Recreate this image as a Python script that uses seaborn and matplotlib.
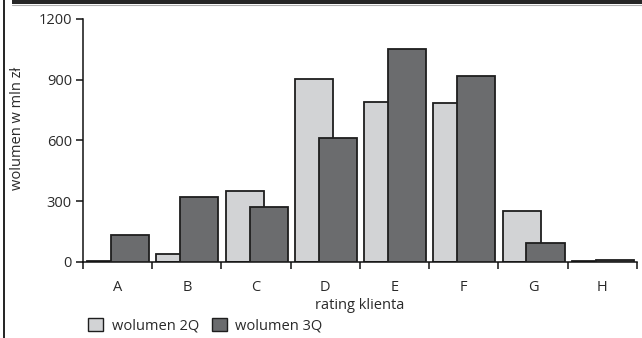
import numpy as np
import matplotlib
matplotlib.use("Agg")
import matplotlib.pyplot as plt
from matplotlib.lines import Line2D
from matplotlib.patches import Rectangle, Patch
import seaborn as sns

# Volume by client rating, in mln zł
categories = ["A", "B", "C", "D", "E", "F", "G", "H"]
wolumen_2q = [5, 40, 352, 902, 792, 784, 252, 3]
wolumen_3q = [133, 321, 273, 612, 1050, 917, 95, 12]
series_labels = ["wolumen 2Q", "wolumen 3Q"]
y_ticks = [0, 300, 600, 900, 1200]

light = "#d2d3d5"
dark = "#6b6c6e"
edge = "#1e1e1e"
text_c = "#2a2a2a"

sns.set_theme(style="white")
plt.rcParams["font.family"] = ["Open Sans", "DejaVu Sans"]

fig = plt.figure(figsize=(6.42, 3.38), dpi=100)
ax = fig.add_axes([0.1293, 0.2249, 0.8627, 0.7189])

idx = np.arange(len(categories))
bar_w = 0.55
sns.barplot(x=idx - 0.165, y=wolumen_2q, native_scale=True, width=bar_w,
            color=light, edgecolor=edge, linewidth=1.3, saturation=1, ax=ax, zorder=2)
sns.barplot(x=idx + 0.18, y=wolumen_3q, native_scale=True, width=bar_w,
            color=dark, edgecolor=edge, linewidth=1.3, saturation=1, ax=ax, zorder=3)

ax.set_xlim(-0.5, len(categories) - 0.5)
ax.set_ylim(0, 1200)

# boundary ticks between categories, labels at the centres
ax.set_xticks(np.arange(-0.5, len(categories), 1.0))
ax.set_xticklabels([])
ax.set_xticks(idx, minor=True)
ax.set_xticklabels(categories, minor=True)
ax.tick_params(axis="x", which="major", direction="out", length=5, width=1.1,
               color="#111111", bottom=True)
ax.tick_params(axis="x", which="minor", length=0, pad=13, labelsize=10.5,
               labelcolor=text_c)

ax.set_yticks(y_ticks)
ax.set_yticklabels([str(t) for t in y_ticks])
ax.tick_params(axis="y", direction="out", length=5, width=1.1, color="#111111",
               left=True, pad=3, labelsize=10.5, labelcolor=text_c)

for s in ["top", "right"]:
    ax.spines[s].set_visible(False)
for s in ["left", "bottom"]:
    ax.spines[s].set_color("#111111")
    ax.spines[s].set_linewidth(1.1)

ax.set_xlabel("rating klienta", fontsize=10.5, color=text_c, labelpad=2)
ax.set_ylabel("wolumen w mln zł", fontsize=10.5, color=text_c, labelpad=4)
ax.yaxis.set_label_coords(-0.105, 0.55)

handles = [Patch(facecolor=light, edgecolor=edge, linewidth=1.0),
           Patch(facecolor=dark, edgecolor=edge, linewidth=1.0)]
fig.legend(handles, series_labels, loc="lower left", bbox_to_anchor=(0.117, -0.025),
           ncol=2, frameon=False, fontsize=10.5, handlelength=1.0, handleheight=1.0,
           handletextpad=0.6, columnspacing=0.9, labelcolor=text_c)

# page frame: dark band on top and rule along the left edge
fig.add_artist(Rectangle((0.018, 0.988), 0.982, 0.012, transform=fig.transFigure,
                         facecolor="#262626", edgecolor="none"))
fig.add_artist(Line2D([0.018, 1.0], [0.986, 0.986], transform=fig.transFigure,
                      color="#b0b0b0", linewidth=0.8))
fig.add_artist(Line2D([0.0055, 0.0055], [0, 1], transform=fig.transFigure,
                      color="#111111", linewidth=1.3))

fig.savefig("out.png", dpi=100)
